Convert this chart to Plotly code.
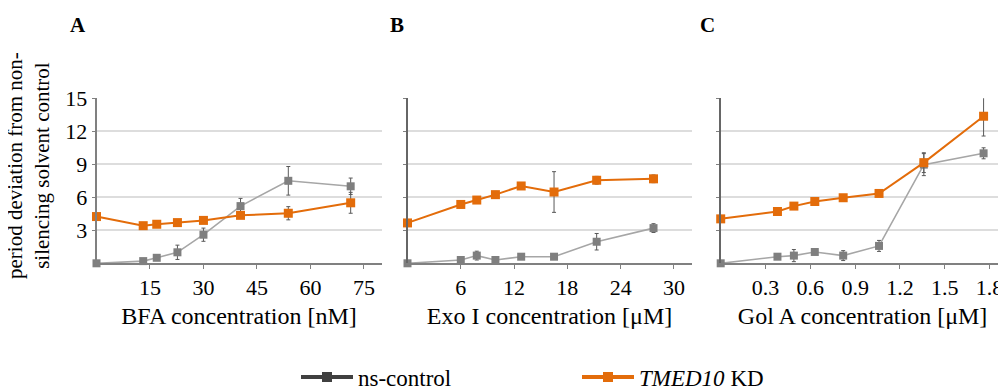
import plotly.graph_objects as go

# ---------------- data ----------------
bfa_conc = [0, 13.1, 16.9, 22.7, 30, 40.4, 53.8, 71.3]
bfa_ctrl = [0, 0.2, 0.5, 1.0, 2.6, 5.2, 7.5, 7.0]
bfa_ctrl_err = [0.05, 0.1, 0.15, 0.65, 0.6, 0.7, 1.3, 0.75]
bfa_kd = [4.25, 3.42, 3.55, 3.7, 3.9, 4.36, 4.55, 5.5]
bfa_kd_err = [0.1, 0.1, 0.1, 0.15, 0.15, 0.15, 0.6, 0.95]

exo_conc = [0, 6.0, 7.8, 9.9, 12.8, 16.5, 21.3, 27.7]
exo_ctrl = [0, 0.3, 0.7, 0.3, 0.6, 0.6, 1.96, 3.2]
exo_ctrl_err = [0.05, 0.15, 0.4, 0.15, 0.2, 0.2, 0.75, 0.4]
exo_kd = [3.67, 5.35, 5.75, 6.24, 7.03, 6.48, 7.55, 7.68]
exo_kd_err = [0.15, 0.3, 0.3, 0.3, 0.3, 1.85, 0.35, 0.35]

gol_conc = [0, 0.38, 0.49, 0.63, 0.82, 1.06, 1.36, 1.76]
gol_ctrl = [0, 0.6, 0.7, 1.03, 0.7, 1.58, 8.97, 10.0]
gol_ctrl_err = [0.05, 0.2, 0.55, 0.2, 0.45, 0.5, 1.0, 0.5]
gol_kd = [4.04, 4.71, 5.2, 5.62, 5.96, 6.35, 9.15, 13.37]
gol_kd_err = [0.1, 0.15, 0.15, 0.15, 0.15, 0.15, 0.9, 1.8]

panel_letters = ["A", "B", "C"]
x_titles = ["BFA concentration [nM]", "Exo I concentration [\u03bcM]", "Gol A concentration [\u03bcM]"]
x_tickvals = [[15, 30, 45, 60, 75], [6, 12, 18, 24, 30], [0.3, 0.6, 0.9, 1.2, 1.5, 1.8]]
x_ticktext = [["15", "30", "45", "60", "75"], ["6", "12", "18", "24", "30"],
              ["0.3", "0.6", "0.9", "1.2", "1.5", "1.8"]]
x_ranges = [[0, 80], [0, 32], [0, 1.9]]
y_tickvals = [3, 6, 9, 12, 15]
series_names = ["ns-control", "<i>TMED10</i> KD"]

# ---------------- style ----------------
FONT = "Liberation Serif"
ORANGE = "#E36C0A"
GRAY_LINE = "#A6A6A6"
GRAY_MARK = "#7F7F7F"
ERR = "#595959"
AXIS = "#808080"
GRID = "#DDDDDD"

OFF = 8  # page body margin
W, H = 1006 - OFF, 390 - OFF


def px(v):
    return (v - OFF) / W


def py(v):
    return (H - (v - OFF)) / H


domains = [[px(96.5), px(381.7)], [px(407.5), px(691.7)], [px(720.7), px(1004.5)]]
ydom = [py(263.3), py(98.3)]

fig = go.Figure()

panels = [
    (bfa_conc, bfa_ctrl, bfa_ctrl_err, bfa_kd, bfa_kd_err),
    (exo_conc, exo_ctrl, exo_ctrl_err, exo_kd, exo_kd_err),
    (gol_conc, gol_ctrl, gol_ctrl_err, gol_kd, gol_kd_err),
]

for i, (xc, yc, ec, yk, ek) in enumerate(panels):
    xa = "x" if i == 0 else f"x{i+1}"
    ya = "y" if i == 0 else f"y{i+1}"
    fig.add_trace(go.Scatter(
        x=xc, y=yc, xaxis=xa, yaxis=ya, mode="lines+markers",
        line=dict(color=GRAY_LINE, width=1.6),
        marker=dict(symbol="square", size=8, color=GRAY_MARK),
        error_y=dict(type="data", array=ec, visible=True, color=ERR, thickness=1, width=2),
        showlegend=False, cliponaxis=False))
    fig.add_trace(go.Scatter(
        x=xc, y=yk, xaxis=xa, yaxis=ya, mode="lines+markers",
        line=dict(color=ORANGE, width=2),
        marker=dict(symbol="square", size=9, color=ORANGE),
        error_y=dict(type="data", array=ek, visible=True, color=ERR, thickness=1, width=2),
        showlegend=False, cliponaxis=False))

# legend-only entries
fig.add_trace(go.Scatter(x=[None], y=[None], mode="lines+markers", name=series_names[0],
                         line=dict(color="#404040", width=4),
                         marker=dict(symbol="square", size=10, color="#404040")))
fig.add_trace(go.Scatter(x=[None], y=[None], mode="lines+markers", name=series_names[1],
                         line=dict(color=ORANGE, width=4),
                         marker=dict(symbol="square", size=10, color=ORANGE)))

layout = dict(
    width=W, height=H,
    margin=dict(l=0, r=0, t=0, b=0, autoexpand=False),
    paper_bgcolor="white", plot_bgcolor="white",
    font=dict(family=FONT, size=22, color="black"),
    showlegend=True,
    legend=dict(orientation="h", x=px(296), y=py(377), xanchor="left", yanchor="middle",
                font=dict(family=FONT, size=23, color="black"),
                itemwidth=52, entrywidth=214, bgcolor="rgba(0,0,0,0)"),
)

for i in range(3):
    xk = "xaxis" if i == 0 else f"xaxis{i+1}"
    yk = "yaxis" if i == 0 else f"yaxis{i+1}"
    ya = "y" if i == 0 else f"y{i+1}"
    xa = "x" if i == 0 else f"x{i+1}"
    layout[xk] = dict(
        domain=domains[i], anchor=ya, range=x_ranges[i],
        tickmode="array", tickvals=x_tickvals[i], ticktext=x_ticktext[i],
        showgrid=False, zeroline=False, showline=True, linecolor=AXIS, linewidth=1.5,
        ticks="outside", ticklen=4, tickcolor=AXIS, tickwidth=1,
        tickfont=dict(family=FONT, size=22),
        title=dict(text=x_titles[i], font=dict(family=FONT, size=24), standoff=8),
    )
    layout[yk] = dict(
        domain=ydom, anchor=xa, range=[0, 15],
        tickmode="array", tickvals=y_tickvals,
        showticklabels=(i == 0),
        showgrid=True, gridcolor=GRID, gridwidth=1.5, zeroline=False,
        showline=True, linecolor=AXIS if i == 0 else "#666666", linewidth=1.5,
        ticks="outside", ticklen=3, tickcolor=AXIS, tickwidth=1,
        tickfont=dict(family=FONT, size=22),
    )

fig.update_layout(**layout)

annotations = []
letter_x = [78, 397, 707]
for i, L in enumerate(panel_letters):
    annotations.append(dict(
        text=f"<b>{L}</b>", x=px(letter_x[i]), y=py(25),
        xref="paper", yref="paper", showarrow=False, xanchor="center", yanchor="middle",
        font=dict(family=FONT, size=21, color="black")))
annotations.append(dict(
    text="period deviation from non-<br>silencing solvent control",
    x=px(28), y=py(166), xref="paper", yref="paper",
    showarrow=False, textangle=-90, xanchor="center", yanchor="middle",
    font=dict(family=FONT, size=21, color="black")))
fig.update_layout(annotations=annotations)

fig.write_html("out.html")
